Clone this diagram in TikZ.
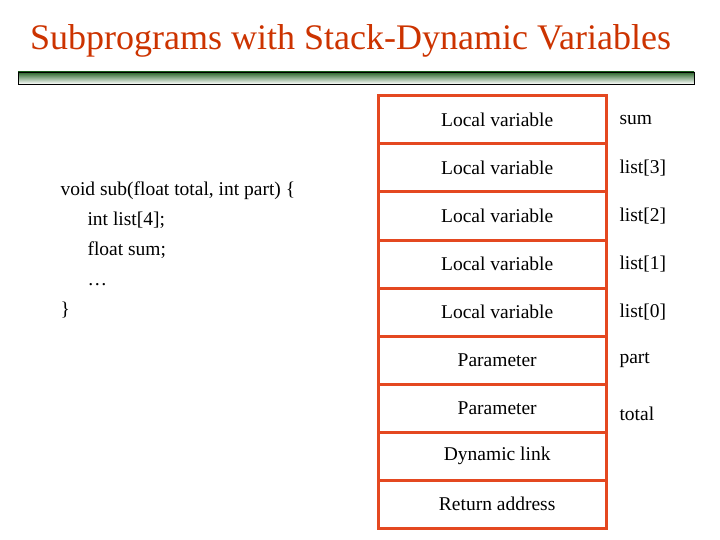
\documentclass[tikz,border=0pt]{standalone}
\usepackage{fontspec}
\setmainfont{Liberation Serif}
\begin{document}
\begin{tikzpicture}[x=1pt,y=-1pt,
  cell/.style={minimum width=228pt,minimum height=48pt,inner sep=0pt,anchor=north west,font=\fontsize{19.5}{22}\selectfont},
  lbl/.style={anchor=west,font=\fontsize{19.5}{22}\selectfont},
  code/.style={anchor=north west,align=left,font=\fontsize{19.5}{30}\selectfont},
  sep/.style={stk,line width=3pt}]
\definecolor{stk}{RGB}{228,72,32}
\definecolor{ttl}{RGB}{204,51,0}
\definecolor{bar}{RGB}{40,100,40}
\useasboundingbox (0,0) rectangle (720,540);
\node[anchor=west,inner sep=0pt,text=ttl,font=\fontsize{36}{40}\selectfont] (title) at (30,41) {Subprograms with Stack-Dynamic Variables};
\shade[top color=bar,bottom color=white] (18,72) rectangle (694,84);
\draw[line width=0.8pt] (18,72) rectangle (694,84);
\foreach \i/\t in {0/Local variable,1/Local variable,2/Local variable,3/Local variable,4/Local variable,5/Parameter,6/Parameter,7/Dynamic link,8/Return address}{
  \node[cell] (c\i) at (378,96+48*\i) {\hspace*{10pt}\t};
  \draw[sep] (c\i.north west) -- (c\i.north east);
}
\draw[sep] (c0.north west) rectangle (c8.south east);
\node[lbl] (l0) at (616,120) {sum};
\node[lbl] (l1) at (616,168) {list[3]};
\node[lbl] (l2) at (616,216) {list[2]};
\node[lbl] (l3) at (616,264) {list[1]};
\node[lbl] (l4) at (616,312) {list[0]};
\node[lbl] (l5) at (616,360) {part};
\node[lbl] (l6) at (616,414) {total};
\node[code] (code) at (57,178) {void sub(float total, int part) \{\\
\hspace{27pt}int list[4];\\
\hspace{27pt}float sum;\\
\hspace{27pt}…\\
\}};
\end{tikzpicture}
\end{document}
